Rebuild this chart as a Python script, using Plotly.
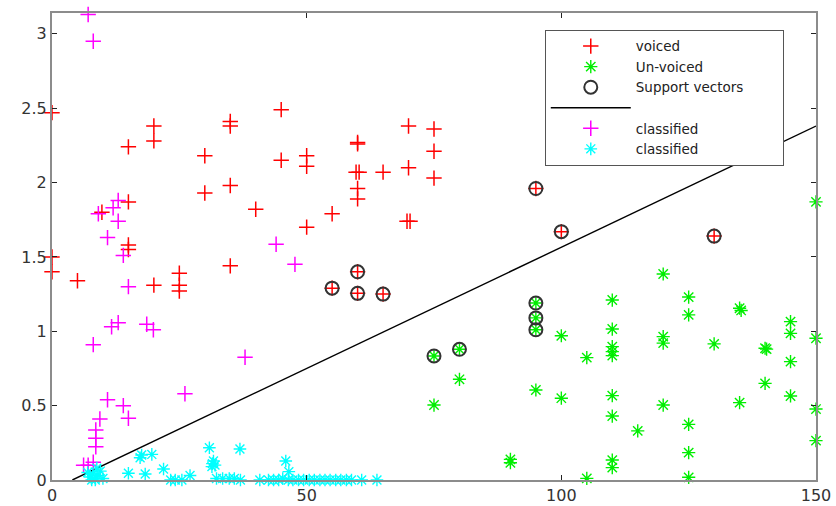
import plotly.graph_objects as go

# ---- data ----
voiced_x = [0, 0, 0, 5, 9.8, 15, 15, 15, 15, 20, 20, 20, 25, 25, 25, 30, 30, 35, 35, 35, 35, 40, 45, 45,
            50, 50, 50, 55, 60, 60, 59.7, 60.3, 60, 60, 65, 70, 70, 69.7, 70.3, 75, 75, 75,
            55, 60, 60, 65, 95, 100, 130]
voiced_y = [2.47, 1.50, 1.40, 1.34, 1.80, 2.24, 1.87, 1.58, 1.55, 2.38, 2.28, 1.31, 1.39, 1.31, 1.27, 2.18, 1.93,
            2.41, 2.38, 1.98, 1.44, 1.82, 2.49, 2.15, 2.18, 2.11, 1.70, 1.79, 2.27, 2.26, 2.07, 2.07, 1.96, 1.89,
            2.07, 2.38, 2.10, 1.74, 1.74, 2.36, 2.21, 2.03,
            1.29, 1.40, 1.255, 1.25, 1.96, 1.67, 1.64]

unvoiced_x = [150, 120, 125, 125, 135, 135.3, 110, 110, 110, 110, 110, 100, 105, 120, 120, 130, 140, 140.3,
              145, 145, 145, 150, 140, 145, 135, 150, 150, 80, 75, 95, 100, 110, 110, 115, 120, 125, 125, 125,
              90, 90, 110, 110, 105,
              95, 95, 95, 75, 80]
unvoiced_y = [1.87, 1.385, 1.23, 1.11, 1.155, 1.14, 1.21, 1.015, 0.897, 0.863, 0.836, 0.97, 0.823, 0.964, 0.92,
              0.915, 0.886, 0.88, 1.065, 0.986, 0.796, 0.953, 0.65, 0.565, 0.52, 0.477, 0.265, 0.677, 0.504,
              0.605, 0.55, 0.567, 0.43, 0.33, 0.504, 0.374, 0.184, 0.018, 0.139, 0.116, 0.134, 0.083, 0.011,
              1.19, 1.09, 1.01, 0.834, 0.879]

sv_x = [55, 60, 60, 65, 95, 100, 130, 95, 95, 95, 75, 80]
sv_y = [1.29, 1.40, 1.255, 1.25, 1.96, 1.67, 1.64, 1.19, 1.09, 1.01, 0.834, 0.879]

line_x = [4, 150]
line_y = [0, 2.38]

cls_pos_x = [7.1, 8.1, 13, 12, 9.1, 13, 10.9, 14, 15, 13, 11.7, 18.6, 19.9, 8.1, 37.9, 26.1, 10.9, 14, 15,
             9.4, 8.6, 8.6, 8.6, 6.2, 7.1, 8.1, 44, 47.7]
cls_pos_y = [3.13, 2.95, 1.88, 1.83, 1.79, 1.74, 1.63, 1.51, 1.30, 1.058, 1.03, 1.047, 1.01, 0.91, 0.825,
             0.58, 0.54, 0.50, 0.415, 0.41, 0.336, 0.28, 0.224, 0.10, 0.10, 0.12, 1.585, 1.45]

cls_neg_x = [7, 7.5, 8, 8.5, 9, 9.5, 10, 8.8, 7.8, 15, 17.3, 17.6, 19.6, 18.3, 21.9, 23.3, 24.2, 25.5, 27.1,
             30.9, 31.7, 31.4, 32, 31.5, 32.3, 33.5, 34.8, 35.8, 36.9, 37, 40.8, 42.5, 43.5, 44.5, 45.9,
             46.5, 45.3, 46.4, 47.3, 48.4, 49.4, 50.5, 51.5, 52.6, 53.6, 54.6, 55.7, 56.7, 57.8, 58.8,
             60.8, 63.8]
cls_neg_y = [0.05, 0.02, 0.04, 0.0, 0.03, 0.06, 0.01, 0.08, 0.0, 0.045, 0.15, 0.168, 0.172, 0.04, 0.074,
             0.0, 0.0, 0.0, 0.03, 0.217, 0.128, 0.09, 0.10, 0.11, 0.01, 0.01, 0.01, 0.01, 0.208, 0.0, 0.0,
             0.0, 0.0, 0.0, 0.128, 0.056, 0.01, 0.0, 0.0, 0.0, 0.0, 0.0, 0.0, 0.0, 0.0, 0.0, 0.0, 0.0, 0.0,
             0.0, 0.0, 0.0]

x_ticks = [0, 50, 100, 150]
y_ticks = [0, 0.5, 1, 1.5, 2, 2.5, 3]

legend_names = ["voiced", "Un-voiced", "Support vectors", " ", "classified", "classified"]

FONT = "DejaVu Sans, Liberation Sans, Arial, sans-serif"
PAD = "\u00a0" * 8  # widens the legend box to match the reference

fig = go.Figure()
fig.add_trace(go.Scatter(x=voiced_x, y=voiced_y, mode="markers", name=legend_names[0], cliponaxis=False,
                         marker=dict(symbol="cross-thin", size=11, color="red",
                                     line=dict(color="#ff0000", width=1.5))))
fig.add_trace(go.Scatter(x=unvoiced_x, y=unvoiced_y, mode="markers", name=legend_names[1], cliponaxis=False,
                         marker=dict(symbol="asterisk", size=11, color="#00ee00",
                                     line=dict(color="#00ee00", width=1.4))))
fig.add_trace(go.Scatter(x=sv_x, y=sv_y, mode="markers", name=legend_names[2] + PAD, cliponaxis=False,
                         marker=dict(symbol="circle-open", size=13, color="#333333",
                                     line=dict(color="#333333", width=2))))
fig.add_trace(go.Scatter(x=line_x, y=line_y, mode="lines", name=legend_names[3],
                         line=dict(color="black", width=1.4)))
fig.add_trace(go.Scatter(x=cls_pos_x, y=cls_pos_y, mode="markers", name=legend_names[4], cliponaxis=False,
                         marker=dict(symbol="cross-thin", size=11, color="#ff00ff",
                                     line=dict(color="#ff00ff", width=1.5))))
fig.add_trace(go.Scatter(x=cls_neg_x, y=cls_neg_y, mode="markers", name=legend_names[5], cliponaxis=False,
                         marker=dict(symbol="asterisk", size=10.5, color="#00ffff",
                                     line=dict(color="#00ffff", width=1.4))))

axis_common = dict(showgrid=False, zeroline=False, showline=True, linecolor="#8c8c8c", linewidth=2,
                   mirror="ticks", ticks="inside", ticklen=5, tickcolor="#222222", tickwidth=1,
                   automargin=False,
                   tickfont=dict(family=FONT, size=16, color="#333333"))

fig.update_layout(
    template="none",
    width=836, height=506,
    margin=dict(l=52, r=20, t=13, b=26, pad=0),
    paper_bgcolor="white", plot_bgcolor="white",
    xaxis=dict(range=[0, 150], tickvals=x_ticks, **axis_common),
    yaxis=dict(range=[0, 3.14], tickvals=y_ticks, ticktext=[str(v) for v in y_ticks], **axis_common),
    legend=dict(x=0.645, y=0.964, xanchor="left", yanchor="top",
                bgcolor="white", bordercolor="#555555", borderwidth=1,
                font=dict(family=FONT, size=13.5, color="#222222"),
                itemwidth=80, tracegroupgap=0),
    showlegend=True,
)

fig.write_html("out.html", config={"displayModeBar": False},
               post_script="document.body.style.margin='0';")
